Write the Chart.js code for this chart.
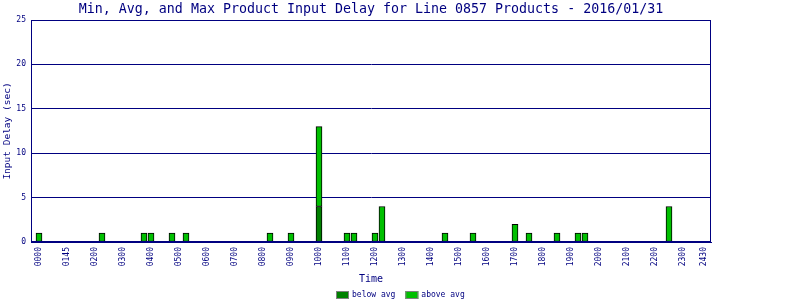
<!DOCTYPE html>
<html>
<head>
<meta charset="utf-8">
<script src="https://cdn.jsdelivr.net/npm/chart.js@4"></script>
<style>
  html, body { margin: 0; padding: 0; background: #ffffff; }
  #wrap { width: 800px; height: 300px; }
</style>
</head>
<body>
<div id="wrap"><canvas id="c" width="800" height="300"></canvas></div>
<script>
// ---- data ----
const chartTitle = "Min, Avg, and Max Product Input Delay for Line 0857 Products - 2016/01/31";
const slotTimes  = ["0000","0215","0345","0400","0445","0515","0815","0900","1000","1100","1115","1200","1215","1430","1530","1700","1730","1830","1915","1930","2230"];
const belowAvg   = [null, null, null, null, null, null, null, null, 4, null, null, null, null, null, null, null, null, null, null, null, null];
const aboveAvg   = [1, 1, 1, 1, 1, 1, 1, 1, 9, 1, 1, 1, 4, 1, 1, 2, 1, 1, 1, 1, 4];
const tickLabels = ["0000","0145","0200","0300","0400","0500","0600","0700","0800","0900","1000","1100","1200","1300","1400","1500","1600","1700","1800","1900","2000","2100","2200","2300","2430"];
const tickHours  = [0,1,2,3,4,5,6,7,8,9,10,11,12,13,14,15,16,17,18,19,20,21,22,23,23.75];
const yTicks     = [0,5,10,15,20,25];
const seriesNames = ["below avg", "above avg"];

const NAVY = "#000080";
const MONO = "'DejaVu Sans Mono', 'Liberation Mono', monospace";

const toHours = t => parseInt(t.slice(0,2),10) + parseInt(t.slice(2),10)/60;
const mk = vals => slotTimes.map((t,i) => ({x: toHours(t), y: vals[i]}));

const frame = {
  id: 'frame',
  afterDraw(chart) {
    const ctx = chart.ctx, a = chart.chartArea;
    ctx.save();
    ctx.strokeStyle = NAVY; ctx.lineWidth = 1;
    ctx.strokeRect(Math.round(a.left)+0.5, Math.round(a.top)+0.5, Math.round(a.right-a.left)-1, Math.round(a.bottom-a.top)-1);
    // title
    ctx.fillStyle = NAVY;
    ctx.font = "13.3px " + MONO;
    ctx.textAlign = "center"; ctx.textBaseline = "middle";
    ctx.fillText(chartTitle, (a.left + a.right)/2, 9.5);
    // legend
    ctx.font = "8px " + MONO;
    ctx.textAlign = "left";
    const ds = chart.data.datasets;
    const boxW = 13, boxH = 8, gapT = 3, gapI = 10;
    const widths = ds.map(d => boxW + gapT + ctx.measureText(d.label).width);
    const total = widths.reduce((s,w)=>s+w,0) + gapI*(ds.length-1);
    let x = Math.round(chart.width/2 - total/2);
    const yC = 295;
    ds.forEach((d,i) => {
      ctx.fillStyle = d.backgroundColor;
      ctx.fillRect(x, yC-4, boxW, boxH);
      ctx.strokeStyle = "#808080";
      ctx.strokeRect(x+0.5, yC-4+0.5, boxW-1, boxH-1);
      ctx.fillStyle = NAVY;
      ctx.fillText(d.label, x + boxW + gapT, yC);
      x += widths[i] + gapI;
    });
    ctx.restore();
  }
};

new Chart(document.getElementById('c'), {
  type: 'bar',
  data: {
    datasets: [
      { label: seriesNames[0], data: mk(belowAvg), backgroundColor: "#008000", borderColor: "#000000", borderWidth: 1, borderSkipped: false, barThickness: 6 },
      { label: seriesNames[1], data: mk(aboveAvg), backgroundColor: "#00c000", borderColor: "#000000", borderWidth: 1, borderSkipped: false, barThickness: 6 }
    ]
  },
  options: {
    responsive: false,
    animation: false,
    layout: { padding: { top: 20, right: 89, bottom: 10, left: 0 } },
    plugins: { legend: { display: false }, title: { display: false }, tooltip: { enabled: false } },
    scales: {
      x: {
        type: 'linear', stacked: true, offset: false,
        min: -2/7, max: 24,
        afterFit: s => { s.height = 48; },
        afterBuildTicks: s => { s.ticks = tickHours.map(v => ({ value: v })); },
        grid: { display: false, offset: false, drawTicks: false },
        border: { color: NAVY, width: 1 },
        ticks: {
          autoSkip: false, minRotation: 90, maxRotation: 90, padding: 5,
          color: NAVY, font: { family: MONO, size: 8 },
          callback: (v, i) => tickLabels[i]
        },
        title: { display: true, text: "Time", color: NAVY, font: { family: MONO, size: 10 }, padding: { top: 5, bottom: 5 } }
      },
      y: {
        stacked: true, min: 0, max: 25,
        afterFit: s => { s.width = 31; },
        afterBuildTicks: s => { s.ticks = yTicks.map(v => ({ value: v })); },
        grid: { color: NAVY, lineWidth: 1, drawTicks: false },
        border: { color: NAVY, width: 1 },
        ticks: { padding: 5, color: NAVY, font: { family: MONO, size: 8 } },
        title: { display: true, text: "Input Delay (sec)", color: NAVY, font: { family: MONO, size: 9.5 }, padding: { top: 2, bottom: 0 } }
      }
    }
  },
  plugins: [frame]
});
</script>
</body>
</html>
